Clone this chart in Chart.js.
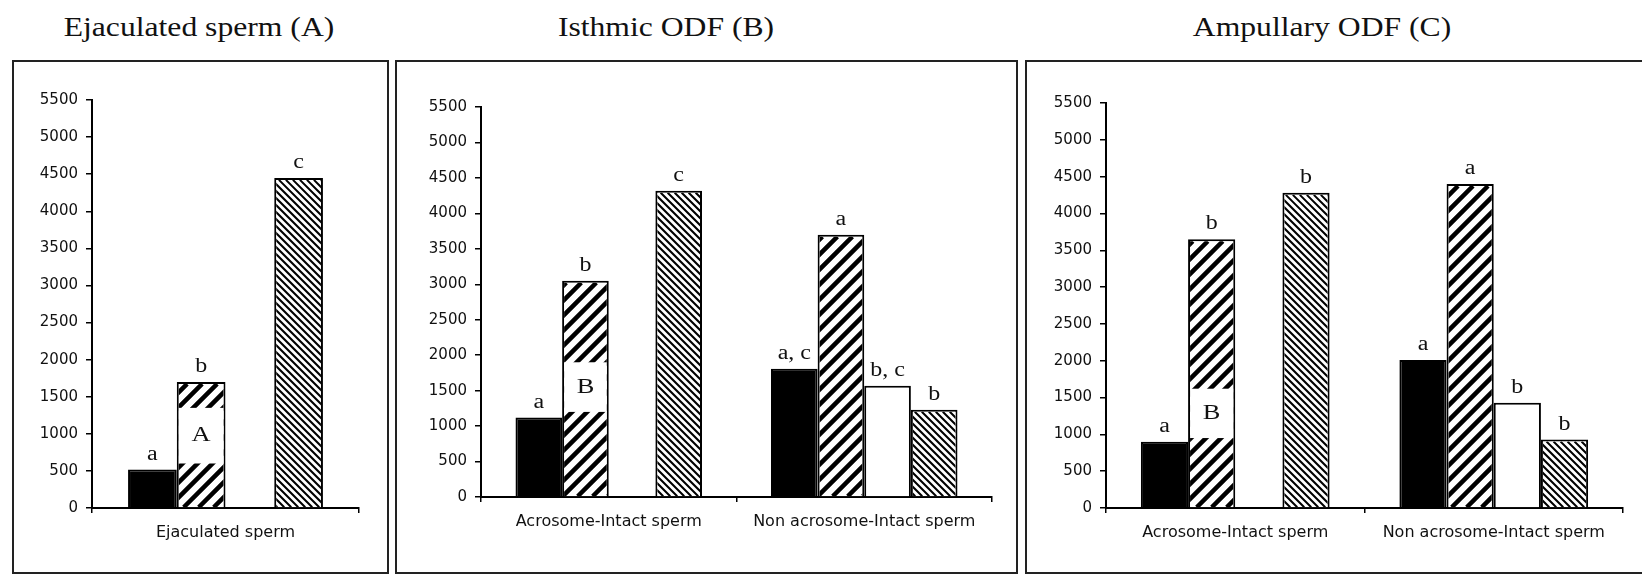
<!DOCTYPE html>
<html>
<head>
<meta charset="utf-8">
<script src="https://cdn.jsdelivr.net/npm/chart.js@4.4.0/dist/chart.umd.min.js"></script>
<style>
  html, body { margin: 0; padding: 0; background: #fff; width: 1642px; height: 574px; overflow: hidden; }
  .box { position: absolute; top: 60px; height: 514px; border: 2px solid #222; box-sizing: border-box; }
  .title { position: absolute; top: 13px; width: 400px; margin-left: -200px; text-align: center;
           font-family: "Liberation Serif", "Times New Roman", serif; font-size: 28px; line-height: 28px;
           color: #111; transform: scaleX(1.13); white-space: nowrap; }
  canvas { position: absolute; }
</style>
</head>
<body>
<div class="title" style="left:199px">Ejaculated sperm (A)</div>
<div class="title" style="left:666px">Isthmic ODF (B)</div>
<div class="title" style="left:1322px">Ampullary ODF (C)</div>
<div class="box" style="left:12px; width:377px"></div>
<div class="box" style="left:395px; width:623px"></div>
<div class="box" style="left:1025px; width:640px"></div>
<canvas id="chartA" width="373" height="510" style="left:14px; top:62px"></canvas>
<canvas id="chartB" width="619" height="510" style="left:397px; top:62px"></canvas>
<canvas id="chartC" width="615" height="510" style="left:1027px; top:62px"></canvas>
<script>
// y axis ticks
const yMin = 0;
const yMax = 5500;
const yStep = 500;

// panel A: ejaculated sperm
const catsA = ['Ejaculated sperm'];
const aBlack = [520];
const aWide = [1700];
const aWhite = [null];
const aDense = [4450];
const lettersA = [['a'], ['b'], [''], ['c']];
const patchA = [600, 1350, 'A'];

// panel B: isthmic ODF
const catsB = ['Acrosome-Intact sperm', 'Non acrosome-Intact sperm'];
const bBlack = [1120, 1810];
const bWide = [3050, 3700];
const bWhite = [null, 1570];
const bDense = [4320, 1230];
const lettersB = [['a', 'a, c'], ['b', 'a'], ['', 'b, c'], ['c', 'b']];
const patchB = [1200, 1900, 'B'];

// panel C: ampullary ODF
const catsC = ['Acrosome-Intact sperm', 'Non acrosome-Intact sperm'];
const cBlack = [900, 2010];
const cWide = [3650, 4400];
const cWhite = [null, 1430];
const cDense = [4280, 930];
const lettersC = [['a', 'a'], ['b', 'a'], ['', 'b'], ['b', 'b']];
const patchC = [950, 1620, 'B'];

const Y_W = 60;   // fixed width of y axis box
const X_H = 40;   // fixed height of x axis box

// hatch style per dataset: [period, line width, direction] (1 = "/", -1 = "\")
const hatchStyle = [null, [15, 4.5, 1], null, [7, 2, -1]];

// diagonal lines clipped to the inside of one bar
function hatchBar(ctx, el, style) {
    const p = style[0];
    const l = el.x - el.width / 2 + 2, r = el.x + el.width / 2 - 2;
    const t = el.y + 2, b = el.base;
    if (b <= t) return;
    ctx.save();
    ctx.beginPath();
    ctx.rect(l, t, r - l, b - t);
    ctx.clip();
    ctx.strokeStyle = '#000';
    ctx.lineWidth = style[1];
    ctx.beginPath();
    if (style[2] > 0) {
        for (let c = Math.floor((l + t) / p) * p - p; c <= r + b + p; c += p) {
            ctx.moveTo(c - b, b); ctx.lineTo(c - t, t);
        }
    } else {
        for (let c = Math.floor((l - b) / p) * p - p; c <= r - t + p; c += p) {
            ctx.moveTo(c + t, t); ctx.lineTo(c + b, b);
        }
    }
    ctx.stroke();
    ctx.restore();
}

function drawLetter(ctx, text, x, y, size) {
    ctx.save();
    ctx.translate(x, y);
    ctx.scale(1.2, 1);
    ctx.font = size + 'px "Liberation Serif", "Times New Roman", serif';
    ctx.textAlign = 'center';
    ctx.textBaseline = 'middle';
    ctx.fillStyle = '#111';
    ctx.fillText(text, 0, 0);
    ctx.restore();
}

function makeChart(id, box, cats, black, wide, white, dense, letters, patch) {
    const canvas = document.getElementById(id);
    const ctx = canvas.getContext('2d');
    const common = { borderColor: '#000', borderWidth: 2, barPercentage: 1, categoryPercentage: 0.73 };

    // hatching, the white inset box on the wide-hatch bar, letters above the bars
    const marks = {
        id: 'marks',
        afterDatasetsDraw: function(chart) {
            const c = chart.ctx;
            hatchStyle.forEach(function(style, i) {
                if (!style) return;
                chart.getDatasetMeta(i).data.forEach(function(el, j) {
                    if (chart.data.datasets[i].data[j] == null) return;
                    hatchBar(c, el, style);
                });
            });
            const bar = chart.getDatasetMeta(1).data[0];
            const ys = chart.scales.y;
            const yTop = ys.getPixelForValue(patch[1]);
            const yBot = ys.getPixelForValue(patch[0]);
            c.fillStyle = '#fff';
            c.fillRect(bar.x - bar.width / 2 + 2, yTop, bar.width - 4, yBot - yTop);
            drawLetter(c, patch[2], bar.x, (yTop + yBot) / 2, 22);
            letters.forEach(function(row, i) {
                const meta = chart.getDatasetMeta(i);
                row.forEach(function(t, j) {
                    if (!t) return;
                    const el = meta.data[j];
                    drawLetter(c, t, el.x, el.y - 15, 20);
                });
            });
        }
    };

    return new Chart(ctx, {
        type: 'bar',
        data: {
            labels: cats,
            datasets: [
                Object.assign({ label: 'black', data: black, backgroundColor: '#000' }, common),
                Object.assign({ label: 'wide hatch', data: wide, backgroundColor: '#fff' }, common),
                Object.assign({ label: 'white', data: white, backgroundColor: '#fff' }, common),
                Object.assign({ label: 'dense hatch', data: dense, backgroundColor: '#fff' }, common)
            ]
        },
        options: {
            responsive: false,
            animation: false,
            devicePixelRatio: 1,
            layout: {
                padding: {
                    left: box.axisX - Y_W,
                    top: box.top5500,
                    bottom: box.height - box.zero - X_H,
                    right: box.width - box.axisEnd
                }
            },
            plugins: { legend: { display: false }, tooltip: { enabled: false } },
            scales: {
                x: {
                    afterFit: function(s) { s.height = X_H; },
                    grid: { offset: true, drawOnChartArea: false, drawTicks: true, tickLength: 5, color: '#000', lineWidth: 1.5 },
                    border: { display: true, color: '#000', width: 2 },
                    ticks: { autoSkip: false, maxRotation: 0, padding: 10, color: '#111',
                             font: { family: 'DejaVu Sans', size: 16 } }
                },
                y: {
                    min: yMin,
                    max: yMax,
                    afterFit: function(s) { s.width = Y_W; },
                    grid: { drawOnChartArea: false, drawTicks: true, tickLength: 6, color: '#000', lineWidth: 1.5 },
                    border: { display: true, color: '#000', width: 2 },
                    ticks: { stepSize: yStep, autoSkip: false, padding: 8, color: '#111',
                             font: { family: 'DejaVu Sans', size: 15 },
                             callback: function(v) { return String(v); } }
                }
            }
        },
        plugins: [marks]
    });
}

makeChart('chartA', { width: 373, height: 510, axisX: 78, top5500: 38, zero: 446, axisEnd: 345 },
    catsA, aBlack, aWide, aWhite, aDense, lettersA, patchA);
makeChart('chartB', { width: 619, height: 510, axisX: 84, top5500: 45, zero: 435, axisEnd: 595 },
    catsB, bBlack, bWide, bWhite, bDense, lettersB, patchB);
makeChart('chartC', { width: 615, height: 510, axisX: 79, top5500: 41, zero: 446, axisEnd: 596 },
    catsC, cBlack, cWide, cWhite, cDense, lettersC, patchC);
</script>
</body>
</html>
